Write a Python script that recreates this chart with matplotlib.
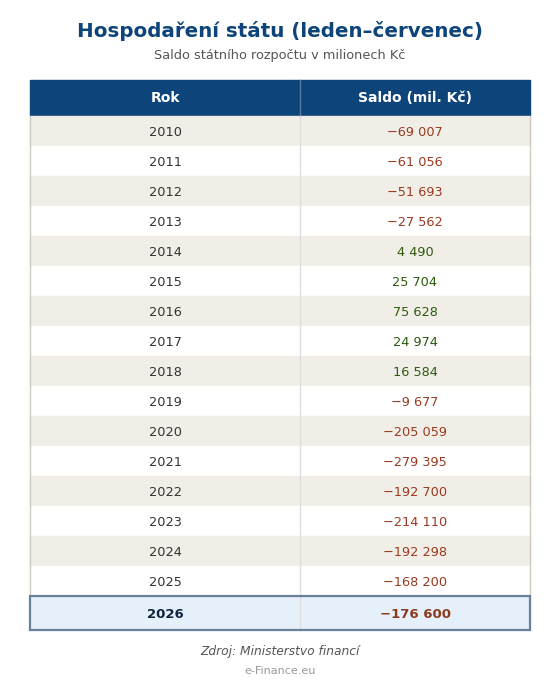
import matplotlib.pyplot as plt
from matplotlib.patches import Rectangle

years = list(range(2010, 2027))
saldo = [-69007, -61056, -51693, -27562, 4490, 25704, 75628, 24974, 16584,
         -9677, -205059, -279395, -192700, -214110, -192298, -168200, -176600]
headers = ["Rok", "Saldo (mil. Kč)"]
title = "Hospodaření státu (leden–červenec)"
subtitle = "Saldo státního rozpočtu v milionech Kč"
source = "Zdroj: Ministerstvo financí"
brand = "e-Finance.eu"

W, H = 560, 700
fig = plt.figure(figsize=(W / 100, H / 100), dpi=100)
ax = fig.add_axes([0, 0, 1, 1])
ax.set_xlim(0, W)
ax.set_ylim(H, 0)
ax.axis("off")


def fmt(v):
    s = f"{abs(v):,}".replace(",", " ")
    return ("−" if v < 0 else "") + s


x0, x1, xm = 30, 530, 300
ax.text(280, 31, title, ha="center", va="center", fontsize=14.3, fontweight="bold", color="#0d4479")
ax.text(280, 56, subtitle, ha="center", va="center", fontsize=9.3, color="#555555")

# header
ax.add_patch(Rectangle((x0, 80), x1 - x0, 36, color="#0d4479", zorder=1))
ax.plot([xm, xm], [80, 116], color="#5a7aa0", lw=1, zorder=2)
ax.text((x0 + xm) / 2, 98, headers[0], ha="center", va="center", fontsize=10, fontweight="bold", color="white")
ax.text((xm + x1) / 2, 98, headers[1], ha="center", va="center", fontsize=10, fontweight="bold", color="white")

y = 116
n = len(years)
for i, (yr, v) in enumerate(zip(years, saldo)):
    last = i == n - 1
    h = 34 if last else 30
    if last:
        bg = "#e6f0fa"
    else:
        bg = "#f1eee8" if i % 2 == 0 else "white"
    ax.add_patch(Rectangle((x0, y), x1 - x0, h, color=bg, zorder=1))
    col = "#9a3a1e" if v < 0 else "#2d5a0e"
    cy = y + h / 2 + 1
    if last:
        ax.add_patch(Rectangle((x0, y), x1 - x0, h, fill=False, ec="#6a819c", lw=1.6, zorder=3))
        ax.text((x0 + xm) / 2, cy, str(yr), ha="center", va="center", fontsize=9.5,
                fontweight="bold", color="#10243f")
        ax.text((xm + x1) / 2, cy, fmt(v), ha="center", va="center", fontsize=9.5,
                fontweight="bold", color="#8b3a1e")
    else:
        ax.text((x0 + xm) / 2, cy, str(yr), ha="center", va="center", fontsize=9.3, color="#333333")
        ax.text((xm + x1) / 2, cy, fmt(v), ha="center", va="center", fontsize=9.3, color=col)
    y += h

# column divider and outer border
ax.plot([xm, xm], [116, y], color="#dddddd", lw=1, zorder=2)
ax.plot([x0, x0], [116, 596], color="#cfcabf", lw=1, zorder=2)
ax.plot([x1, x1], [116, 596], color="#cfcabf", lw=1, zorder=2)

ax.text(280, 651, source, ha="center", va="center", fontsize=8.8, style="italic", color="#555555")
ax.text(280, 671, brand, ha="center", va="center", fontsize=8, color="#999999")

fig.savefig("out.png", dpi=100, facecolor="white")
